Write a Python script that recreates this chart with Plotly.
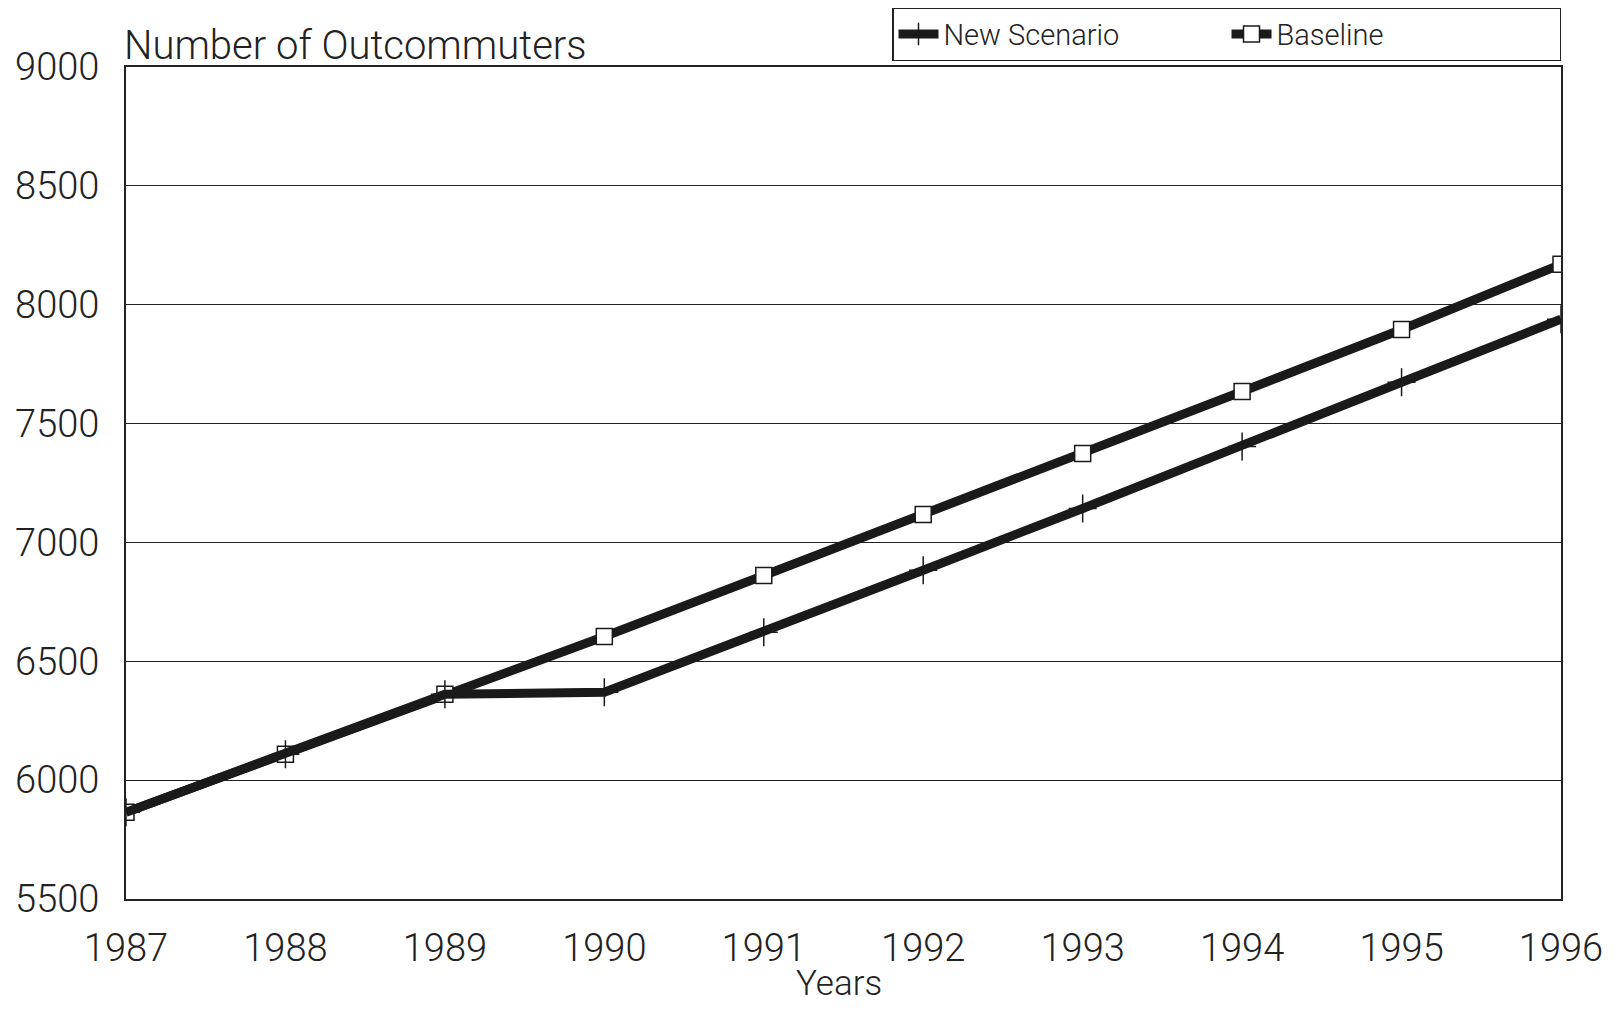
import plotly.graph_objects as go

# data
years = [1987, 1988, 1989, 1990, 1991, 1992, 1993, 1994, 1995, 1996]
baseline = [5865, 6109, 6361, 6604, 6861, 7117, 7374, 7635, 7896, 8170]
new_scenario = [5865, 6109, 6361, 6370, 6622, 6883, 7143, 7404, 7674, 7939]
y_ticks = [5500, 6000, 6500, 7000, 7500, 8000, 8500, 9000]

FONT = "Roboto, sans-serif"
INK = "#1a1a1a"

fig = go.Figure()

fig.add_trace(go.Scatter(
    x=years, y=baseline, name="Baseline", mode="lines+markers",
    line=dict(color=INK, width=9),
    marker=dict(symbol="square", size=16, color="white",
                line=dict(color=INK, width=1.5)),
))
fig.add_trace(go.Scatter(
    x=years, y=new_scenario, name="New Scenario", mode="lines+markers",
    line=dict(color=INK, width=9),
    marker=dict(symbol="cross-thin", size=20, color=INK,
                line=dict(color=INK, width=1.5)),
))

fig.update_layout(
    width=1605, height=996,
    margin=dict(l=118, r=52, t=59, b=105, autoexpand=False),
    paper_bgcolor="white", plot_bgcolor="white",
    font=dict(family=FONT, color="#222", size=34, weight=300),
    showlegend=True,
    legend=dict(
        orientation="h", traceorder="reversed",
        x=1, xanchor="right", y=1.072, yanchor="top",
        bordercolor="#222", borderwidth=1.5, bgcolor="white",
        font=dict(size=29, weight=300), itemwidth=40,
        entrywidth=278,
    ),
    xaxis=dict(
        range=[1987, 1996], tickvals=years, ticks="",
        showgrid=False, zeroline=False,
        showline=True, linecolor="#222", linewidth=2, mirror=True,
        tickfont=dict(size=38, weight=300), ticklabelstandoff=14,
    ),
    yaxis=dict(
        range=[5500, 9000], tickvals=y_ticks, ticks="",
        showgrid=True, gridcolor="#222", gridwidth=1.2,
        zeroline=False,
        showline=True, linecolor="#222", linewidth=2, mirror=True,
        tickfont=dict(size=38, weight=300), ticklabelstandoff=17,
    ),
    annotations=[
        dict(
            text="Number of Outcommuters", xref="paper", yref="paper",
            x=0, y=1, xanchor="left", yanchor="bottom", xshift=-4, yshift=-4,
            showarrow=False, font=dict(size=40, weight=300),
        ),
        dict(
            text="Years", xref="paper", yref="paper",
            x=0.497, y=0, xanchor="center", yanchor="middle", yshift=-84,
            showarrow=False, font=dict(size=35, weight=300),
        ),
    ],
)

fig.write_html("out.html")
